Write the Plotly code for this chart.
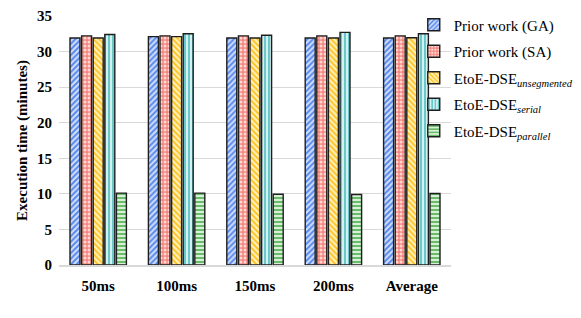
import plotly.graph_objects as go

categories = ["50ms", "100ms", "150ms", "200ms", "Average"]
ga = [31.9, 32.1, 31.9, 31.9, 31.9]
sa = [32.2, 32.2, 32.2, 32.2, 32.2]
unseg = [31.9, 32.1, 31.9, 31.9, 31.95]
serial = [32.4, 32.5, 32.3, 32.7, 32.5]
parallel = [10.1, 10.1, 9.95, 9.9, 10.05]

series = [
    ("Prior work (GA)", ga, "/", "#4F82EC", "#CBDBFA"),
    ("Prior work (SA)", sa, ".", "#FFD6D2", "#F2867E"),
    ("EtoE-DSE<sub><i>unsegmented</i></sub>", unseg, "\\", "#FFBF1A", "#FFF1B8"),
    ("EtoE-DSE<sub><i>serial</i></sub>", serial, "|", "#5EC3C6", "#D4F1F1"),
    ("EtoE-DSE<sub><i>parallel</i></sub>", parallel, "-", "#5DB55D", "#D8EFD8"),
]

fig = go.Figure()
for i, (name, vals, shape, fg, bg) in enumerate(series):
    fig.add_trace(go.Bar(
        x=categories, y=vals, name=name, legendgroup=str(i),
        marker=dict(
            color=bg,
            line=dict(color="#1E1E1E", width=1.4),
            pattern=dict(shape=shape, fgcolor=fg, bgcolor=bg, size=4, solidity=0.45, fillmode="replace"),
        ),
    ))

serif = "Liberation Serif, Times New Roman, serif"
fig.update_layout(
    width=573, height=310,
    margin=dict(l=51, r=130, t=8, b=53, autoexpand=False),
    paper_bgcolor="white", plot_bgcolor="white",
    barmode="group", bargap=0.26, bargroupgap=0.14,
    font=dict(family=serif, color="#000"),
    showlegend=True,
    legend=dict(x=0.905, xanchor="left", y=1.03, yanchor="top", maxheight=1,
                font=dict(family=serif, size=15, color="#000"),
                tracegroupgap=4, bgcolor="rgba(0,0,0,0)"),
    xaxis=dict(tickfont=dict(family=serif, size=15, color="#000"),
               showline=True, linecolor="#D9D9D9", linewidth=1.5,
               ticks="outside", ticklen=6, tickcolor="rgba(0,0,0,0)", showgrid=False),
    yaxis=dict(range=[0, 35], dtick=5, tickfont=dict(family=serif, size=15, color="#000"),
               showgrid=True, gridcolor="#D9D9D9", gridwidth=1.2, zeroline=False,
               showline=False, ticks="", ticklabelstandoff=6,
               title=dict(text="<b>Execution time (minutes)</b>", font=dict(family=serif, size=15, color="#000"), standoff=5)),
)
fig.update_xaxes(tickprefix="<b>", ticksuffix="</b>")
fig.update_yaxes(tickprefix="<b>", ticksuffix="</b>")
fig.write_html("out.html")
